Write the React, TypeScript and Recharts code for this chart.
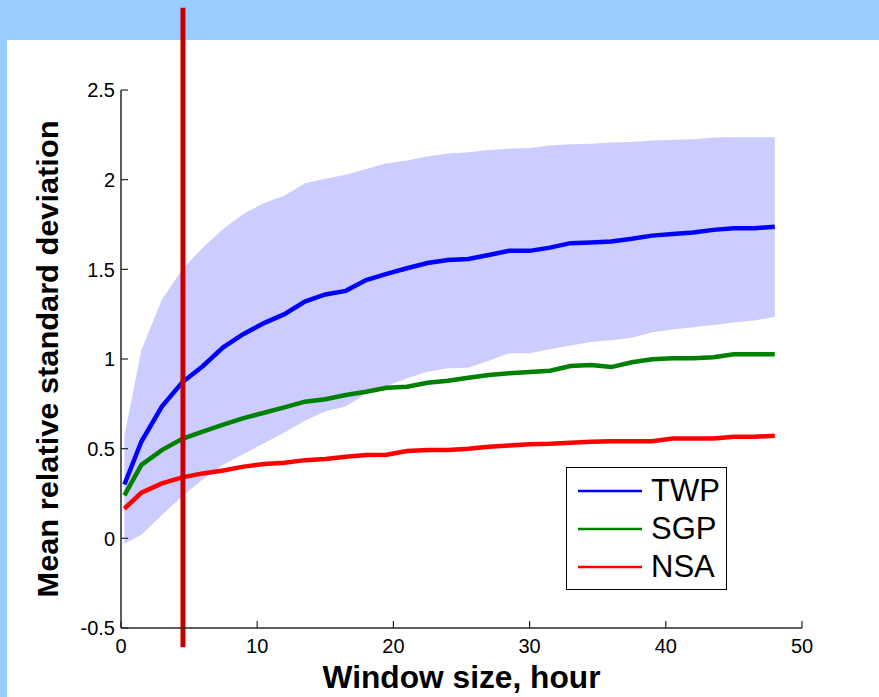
import React from 'react';
import { ComposedChart, Line, Area, XAxis, YAxis, ReferenceLine, Legend } from 'recharts';

const hours = [0.25, 1.5, 3, 4.5, 6, 7.5, 9, 10.5, 12, 13.5, 15, 16.5, 18, 19.5, 21, 22.5, 24, 25.5, 27, 28.5, 30, 31.5, 33, 34.5, 36, 37.5, 39, 40.5, 42, 43.5, 45, 46.5, 48];
const twp = [0.3, 0.54, 0.735, 0.87, 0.96, 1.065, 1.14, 1.2, 1.25, 1.32, 1.36, 1.38, 1.44, 1.475, 1.506, 1.535, 1.552, 1.558, 1.58, 1.603, 1.603, 1.621, 1.646, 1.65, 1.655, 1.67, 1.688, 1.697, 1.705, 1.72, 1.729, 1.729, 1.738];
const twpLow = [-0.03, 0.02, 0.13, 0.235, 0.33, 0.41, 0.47, 0.53, 0.59, 0.655, 0.708, 0.735, 0.808, 0.85, 0.892, 0.929, 0.948, 0.951, 0.99, 1.032, 1.032, 1.055, 1.075, 1.095, 1.105, 1.118, 1.149, 1.165, 1.177, 1.19, 1.203, 1.214, 1.236];
const twpHigh = [0.57, 1.05, 1.33, 1.5, 1.62, 1.725, 1.81, 1.87, 1.91, 1.98, 2.005, 2.027, 2.059, 2.092, 2.107, 2.129, 2.146, 2.153, 2.166, 2.172, 2.176, 2.19, 2.198, 2.2, 2.207, 2.21, 2.218, 2.222, 2.226, 2.235, 2.236, 2.236, 2.237];
const sgp = [0.24, 0.41, 0.492, 0.555, 0.595, 0.634, 0.67, 0.7, 0.73, 0.762, 0.776, 0.799, 0.817, 0.84, 0.845, 0.868, 0.879, 0.895, 0.911, 0.92, 0.928, 0.935, 0.961, 0.967, 0.955, 0.982, 0.998, 1.004, 1.004, 1.01, 1.026, 1.026, 1.026];
const nsa = [0.165, 0.255, 0.306, 0.34, 0.362, 0.378, 0.4, 0.414, 0.421, 0.436, 0.442, 0.455, 0.464, 0.466, 0.487, 0.492, 0.492, 0.5, 0.511, 0.518, 0.524, 0.527, 0.533, 0.538, 0.542, 0.542, 0.542, 0.557, 0.557, 0.557, 0.566, 0.566, 0.572];

const seriesNames = ['TWP', 'SGP', 'NSA'];
const seriesColors = ['#0000FF', '#008000', '#FF0000'];
const xTicks = [0, 10, 20, 30, 40, 50];
const yTicks = [-0.5, 0, 0.5, 1, 1.5, 2, 2.5];
const markerHour = 4.55;
const markerSpan = [-0.607, 2.959];

const xTitle = 'Window size, hour';
const yTitle = 'Mean relative standard deviation';

const data = hours.map((h, i) => ({
  hour: h,
  band: [twpLow[i], twpHigh[i]],
  TWP: twp[i],
  SGP: sgp[i],
  NSA: nsa[i],
}));

const W = 879;
const H = 697;
const MARGIN = { top: 90, right: 77, bottom: 39, left: 61 };
const Y_AXIS_W = 60;
const X_AXIS_H = 30;
const PLOT_LEFT = MARGIN.left + Y_AXIS_W;
const PLOT_BOTTOM = H - MARGIN.bottom - X_AXIS_H;
const FONT = '"Liberation Sans", Arial, Helvetica, sans-serif';
const TICK_LEN = 7;
const AXIS_COLOR = '#262626';

const XTick = (props: any) => {
  const { x, payload } = props;
  return (
    <g>
      <line x1={x} x2={x} y1={PLOT_BOTTOM} y2={PLOT_BOTTOM - TICK_LEN} stroke={AXIS_COLOR} strokeWidth={1.2} />
      <text x={x} y={PLOT_BOTTOM + 25} textAnchor="middle" fontSize={20} fontFamily={FONT} fill="#000">
        {payload.value}
      </text>
    </g>
  );
};

const YTick = (props: any) => {
  const { y, payload } = props;
  return (
    <g>
      <line x1={PLOT_LEFT} x2={PLOT_LEFT + TICK_LEN} y1={y} y2={y} stroke={AXIS_COLOR} strokeWidth={1.2} />
      <text x={PLOT_LEFT - 6} y={y} dy="0.36em" textAnchor="end" fontSize={20} fontFamily={FONT} fill="#000">
        {payload.value}
      </text>
    </g>
  );
};

const XTitle = (props: any) => {
  const vb = props.viewBox || { x: PLOT_LEFT, y: PLOT_BOTTOM, width: 681, height: X_AXIS_H };
  return (
    <text
      x={vb.x + vb.width / 2}
      y={vb.y + 60}
      textAnchor="middle"
      fontSize={31}
      fontWeight="bold"
      fontFamily={FONT}
      fill="#000"
      textLength={278}
      lengthAdjust="spacingAndGlyphs"
    >
      {xTitle}
    </text>
  );
};

const YTitle = (props: any) => {
  const vb = props.viewBox || { x: MARGIN.left, y: MARGIN.top, width: Y_AXIS_W, height: 538 };
  const cx = vb.x - 13;
  const cy = vb.y + vb.height / 2;
  return (
    <text
      x={cx}
      y={cy}
      transform={`rotate(-90 ${cx} ${cy})`}
      dy="0.36em"
      textAnchor="middle"
      fontSize={29}
      fontWeight="bold"
      fontFamily={FONT}
      fill="#000"
      textLength={477}
      lengthAdjust="spacingAndGlyphs"
    >
      {yTitle}
    </text>
  );
};

const LegendBox = () => (
  <div
    style={{
      position: 'relative',
      width: 161,
      height: 123,
      boxSizing: 'border-box',
      border: '1.5px solid #000',
      background: '#fff',
      fontFamily: FONT,
    }}
  >
    {seriesNames.map((name, i) => (
      <div key={name} style={{ position: 'absolute', left: 0, top: 22.7 + i * 38.3 - 20, height: 40, width: 161 }}>
        <svg width={80} height={40} style={{ position: 'absolute', left: 0, top: 0 }}>
          <line x1={11} x2={75} y1={20} y2={20} stroke={seriesColors[i]} strokeWidth={2.5} />
        </svg>
        <span style={{ position: 'absolute', left: 84, top: 0, lineHeight: '40px', fontSize: 31, color: '#000' }}>{name}</span>
      </div>
    ))}
  </div>
);

export default function App() {
  return (
    <div style={{ position: 'absolute', left: 0, top: 0, width: W, height: H, background: '#99CCFF', overflow: 'hidden' }}>
      <div style={{ position: 'absolute', left: 7, top: 40, width: W - 7, height: H - 40, background: '#FFFFFF' }} />
      <div style={{ position: 'absolute', left: 0, top: 0 }}>
        <ComposedChart width={W} height={H} data={data} margin={MARGIN}>
          <XAxis
            type="number"
            dataKey="hour"
            domain={[0, 50]}
            ticks={xTicks}
            allowDataOverflow
            height={X_AXIS_H}
            tick={<XTick />}
            tickLine={false}
            axisLine={{ stroke: AXIS_COLOR, strokeWidth: 1.5 }}
            label={{ content: <XTitle /> }}
          />
          <YAxis
            type="number"
            domain={[-0.5, 2.5]}
            ticks={yTicks}
            allowDataOverflow
            width={Y_AXIS_W}
            tick={<YTick />}
            tickLine={false}
            axisLine={{ stroke: AXIS_COLOR, strokeWidth: 1.5 }}
            label={{ content: <YTitle /> }}
          />
          <Area
            type="linear"
            dataKey="band"
            fill="#CCCCFF"
            fillOpacity={1}
            stroke="none"
            isAnimationActive={false}
            legendType="none"
            activeDot={false}
          />
          {seriesNames.map((name, i) => (
            <Line
              key={name}
              type="linear"
              dataKey={name}
              name={name}
              stroke={seriesColors[i]}
              strokeWidth={4.5}
              dot={false}
              activeDot={false}
              isAnimationActive={false}
            />
          ))}
          <ReferenceLine
            segment={[{ x: markerHour, y: markerSpan[0] }, { x: markerHour, y: markerSpan[1] }]}
            stroke="#C40000"
            strokeWidth={5}
            ifOverflow="visible"
          />
          <Legend
            layout="horizontal"
            align="center"
            verticalAlign="middle"
            content={<LegendBox />}
            wrapperStyle={{ position: 'absolute', left: 566, top: 467, width: 161, height: 123 }}
          />
        </ComposedChart>
      </div>
    </div>
  );
}
